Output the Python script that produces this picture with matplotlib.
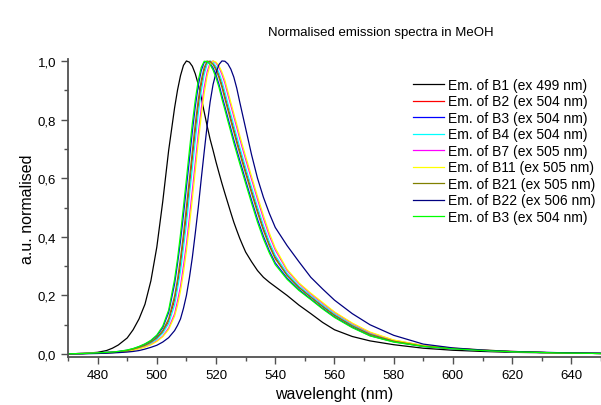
import matplotlib
matplotlib.use("Agg")
import matplotlib.pyplot as plt
from matplotlib.ticker import MultipleLocator, FuncFormatter

plt.rcParams["font.family"] = ["Liberation Sans", "DejaVu Sans"]

# shared wavelength grid (nm), 1 nm steps round the peaks
wl = [470, 475, 480, 483, 485, 487, 490, 492, 494, 496, 498, 500, 502, 504, 506,
      507, 508, 509, 510, 511, 512, 513, 514, 515, 516, 517, 518,
      519, 520, 521, 522, 523, 524, 525, 526, 527, 528, 529, 530,
      532, 534, 536, 538, 540, 544, 548, 552, 556, 560,
      566, 572, 580, 590, 600, 610, 620, 635, 650]

# normalised emission
b1 = [.001, .002, .006, .012, .020, .031, .055, .083, .120, .170, .250, .365, .520, .695, .840,
      .901, .950, .985, 1.0, .996, .982, .956, .920, .876, .826, .778, .733,
      .695, .655, .618, .582, .548, .515, .482, .450, .422, .395, .371, .348,
      .315, .285, .262, .245, .230, .200, .167, .138, .108, .083,
      .060, .045, .032, .020, .013, .009, .006, .004, .002]
b2 = [.001, .002, .003, .005, .006, .008, .011, .016, .022, .029, .039, .053, .075, .112, .184,
      .239, .305, .386, .473, .569, .664, .759, .845, .916, .967, .995, .999,
      .992, .976, .952, .920, .882, .844, .806, .769, .731, .696, .661, .626,
      .559, .492, .430, .376, .331, .271, .229, .196, .164, .134,
      .098, .068, .044, .027, .019, .013, .008, .004, .002]
b3 = [.001, .002, .004, .006, .007, .009, .013, .018, .025, .034, .045, .062, .090, .142, .239,
      .309, .386, .475, .569, .664, .759, .845, .916, .967, .995, .999, .992,
      .976, .952, .920, .881, .844, .806, .769, .731, .696, .661, .627, .592,
      .525, .460, .402, .352, .311, .259, .220, .188, .156, .127,
      .092, .063, .042, .026, .018, .012, .008, .004, .002]
b4 = [.001, .002, .003, .004, .005, .007, .011, .015, .021, .028, .037, .051, .071, .104, .168,
      .224, .282, .363, .445, .541, .635, .730, .821, .897, .954, .990, 1.0,
      .995, .981, .960, .930, .894, .855, .818, .780, .743, .706, .671, .636,
      .569, .502, .439, .383, .337, .275, .232, .199, .167, .137,
      .099, .070, .045, .028, .019, .013, .008, .004, .002]
b7 = [.001, .002, .003, .004, .005, .007, .010, .014, .019, .025, .033, .045, .061, .089, .137,
      .182, .231, .301, .375, .465, .558, .654, .751, .837, .910, .963, .994,
      1.0, .993, .978, .954, .924, .885, .848, .810, .773, .735, .699, .664,
      .596, .528, .463, .404, .355, .285, .240, .205, .173, .142,
      .104, .073, .047, .029, .020, .013, .009, .004, .002]
b11 = [.001, .002, .003, .004, .005, .006, .009, .013, .018, .024, .032, .043, .059, .084, .129,
       .166, .215, .278, .352, .437, .530, .626, .723, .812, .890, .949, .987,
       1.0, .996, .983, .962, .934, .896, .858, .821, .784, .746, .710, .675,
       .606, .538, .473, .413, .362, .289, .243, .208, .176, .144,
       .106, .075, .048, .029, .020, .014, .009, .004, .002]
b21 = [.001, .002, .003, .005, .006, .008, .012, .017, .023, .030, .041, .056, .080, .120, .198,
       .255, .328, .409, .503, .597, .692, .787, .868, .934, .978, .999, .998,
       .988, .969, .943, .910, .870, .833, .795, .758, .720, .685, .650, .616,
       .549, .483, .422, .369, .325, .268, .227, .194, .162, .132,
       .096, .067, .044, .027, .019, .013, .008, .004, .002]
b22 = [.001, .001, .002, .003, .004, .005, .007, .009, .012, .017, .023, .030, .041, .056, .080,
       .098, .120, .156, .200, .260, .330, .413, .500, .597, .690, .780, .860,
       .920, .960, .988, 1.0, .999, .990, .972, .945, .907, .860, .815, .770,
       .680, .600, .535, .480, .432, .370, .315, .262, .222, .184,
       .138, .100, .064, .034, .021, .014, .009, .005, .003]
b3b = [.001, .002, .004, .006, .007, .009, .014, .019, .026, .035, .047, .065, .095, .150, .255,
       .325, .409, .503, .597, .694, .787, .868, .934, .978, .999, .998, .988,
       .969, .943, .910, .870, .833, .795, .758, .720, .685, .650, .616, .582,
       .515, .450, .393, .345, .305, .255, .217, .186, .154, .125,
       .090, .062, .041, .026, .018, .012, .008, .004, .002]

series = [b1, b2, b3, b4, b7, b11, b21, b22, b3b]
labels = ["Em. of B1 (ex 499 nm)", "Em. of B2 (ex 504 nm)", "Em. of B3 (ex 504 nm)",
          "Em. of B4 (ex 504 nm)", "Em. of B7 (ex 505 nm)", "Em. of B11 (ex 505 nm)",
          "Em. of B21 (ex 505 nm)", "Em. of B22 (ex 506 nm)", "Em. of B3 (ex 504 nm)"]
colors = ["#000000", "#ff0000", "#0000ff", "#00ffff", "#ff00ff", "#ffff00",
          "#808000", "#000080", "#00ff00"]

fig = plt.figure(figsize=(6.01, 4.06), dpi=100)
ax = fig.add_axes([0.1131, 0.1182, 0.8869, 0.7328])

for ys, lab, col in zip(series, labels, colors):
    ax.plot(wl, ys, color=col, lw=0.9, label=lab)

ax.set_xlim(470, 650)
ax.set_ylim(-0.01, 1.005)
ax.set_xticks([480, 500, 520, 540, 560, 580, 600, 620, 640])
ax.xaxis.set_minor_locator(MultipleLocator(10))
ax.yaxis.set_major_locator(MultipleLocator(0.2))
ax.yaxis.set_minor_locator(MultipleLocator(0.1))
ax.yaxis.set_major_formatter(FuncFormatter(lambda v, p: f"{v:.1f}".replace(".", ",")))

for s in ("top", "right"):
    ax.spines[s].set_visible(False)
for s in ("left", "bottom"):
    ax.spines[s].set_color("#505050")
    ax.spines[s].set_linewidth(1.3)
ax.tick_params(which="both", direction="out", color="#505050", width=1.0, labelsize=9.5)
ax.tick_params(which="major", length=5)
ax.tick_params(which="minor", length=3)

ax.set_xlabel("wavelenght (nm)", fontsize=11.5, labelpad=4)
ax.set_ylabel("a.u. normalised", fontsize=11.5, labelpad=2)
fig.text(0.633, 0.918, "Normalised emission spectra in MeOH", ha="center", va="center", fontsize=9.5)

ax.legend(loc="upper left", bbox_to_anchor=(0.647, 0.938), frameon=False, fontsize=10,
          handlelength=2.25, handletextpad=0.25, labelspacing=0.18, borderpad=0, borderaxespad=0)

fig.savefig("out.png", dpi=100)
